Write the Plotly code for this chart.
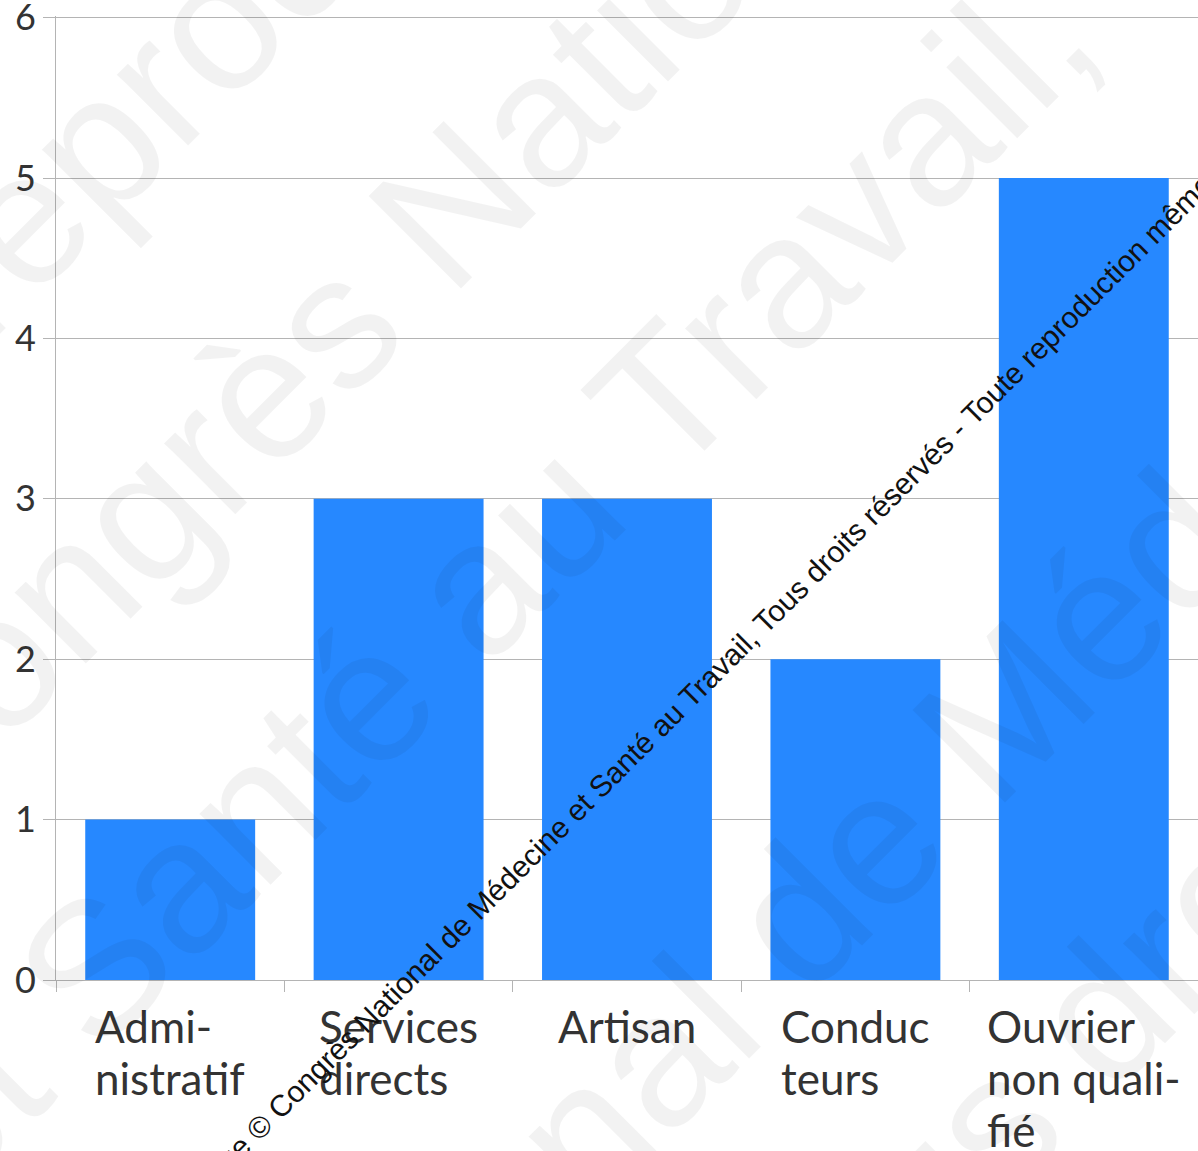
import plotly.graph_objects as go

# Data
categories = ["Administratif", "Services directs", "Artisan", "Conducteurs", "Ouvrier non qualifié"]
tick_labels = [
    ["Admi-", "nistratif"],
    ["Services", "directs"],
    ["Artisan"],
    ["Conduc", "teurs"],
    ["Ouvrier", "non quali-", "fié"],
]
counts = [1, 3, 3, 2, 5]
y_ticks = [0, 1, 2, 3, 4, 5, 6]

# Page geometry
W, H = 1198, 1151
M_L, M_R, M_T, M_B = 56, 0, 16.4, 171


def paper_x(px):
    return (px - M_L) / (W - M_L - M_R)


def paper_y(py):
    return (H - M_B - py) / (H - M_T - M_B)


BAR_COLOR = "#2688ff"
GRID = "#b4b4b4"
TEXT = "#333333"
LABEL_FONT = "Lato, 'Open Sans', sans-serif"
MARK_FONT = "'Liberation Sans', Arial, Helvetica, sans-serif"

fig = go.Figure()
fig.add_trace(go.Bar(
    x=categories,
    y=counts,
    marker=dict(color=BAR_COLOR, line=dict(width=0)),
    hoverinfo="skip",
))

annotations = []

# Category labels, left-aligned blocks centred under each bar
for cat, lines in zip(categories, tick_labels):
    text = "<br>".join(f'<span style="font-size:44px">{ln}</span>' for ln in lines)
    annotations.append(dict(
        x=cat, xref="x", y=paper_y(998), yref="paper",
        xanchor="center", yanchor="top", align="left",
        text=text, showarrow=False,
        font=dict(family=LABEL_FONT, size=40, color=TEXT),
    ))

# Large diagonal copyright watermark
big_marks = [
    ("reproduction", (311, -71)),
    ("Congrès National", (377, 279)),
    ("et Santé au Travail,", (480, 582)),
    ("National de Médecine", (880, 834)),
    ("Tous droits", (1067, 1048)),
]
for text, (cx, cy) in big_marks:
    annotations.append(dict(
        x=paper_x(cx), y=paper_y(cy), xref="paper", yref="paper",
        xanchor="center", yanchor="middle", textangle=-45,
        text=text, showarrow=False,
        font=dict(family=MARK_FONT, size=190, color="rgba(0,0,0,0.05)"),
    ))

# Small diagonal copyright line
annotations.append(dict(
    x=paper_x(778), y=paper_y(609), xref="paper", yref="paper",
    xanchor="center", yanchor="middle", textangle=-45,
    text="Image © Congrès National de Médecine et Santé au Travail, Tous droits réservés - "
         "Toute reproduction même partielle interdite",
    showarrow=False,
    font=dict(family=MARK_FONT, size=30, color="#111111"),
))

fig.update_layout(
    width=W, height=H,
    margin=dict(l=M_L, r=M_R, t=M_T, b=M_B, pad=0, autoexpand=False),
    paper_bgcolor="white", plot_bgcolor="white",
    showlegend=False,
    bargap=0.256,
    annotations=annotations,
    xaxis=dict(
        type="category",
        showticklabels=False,
        ticks="outside", tickson="boundaries", ticklen=11,
        tickcolor=GRID, tickwidth=1,
        showline=True, linecolor=GRID, linewidth=1,
        showgrid=False, zeroline=False,
        automargin=False,
        fixedrange=True,
    ),
    yaxis=dict(
        range=[0, 6.01],
        tickvals=y_ticks,
        ticks="outside", ticklen=12, tickcolor=GRID, tickwidth=1,
        showline=True, linecolor=GRID, linewidth=1,
        showgrid=True, gridcolor=GRID, gridwidth=1,
        zeroline=False,
        ticklabeloverflow="allow",
        automargin=False,
        tickfont=dict(family=LABEL_FONT, size=36, color=TEXT),
        fixedrange=True,
    ),
)

fig.write_html("out.html", config={"displayModeBar": False})
